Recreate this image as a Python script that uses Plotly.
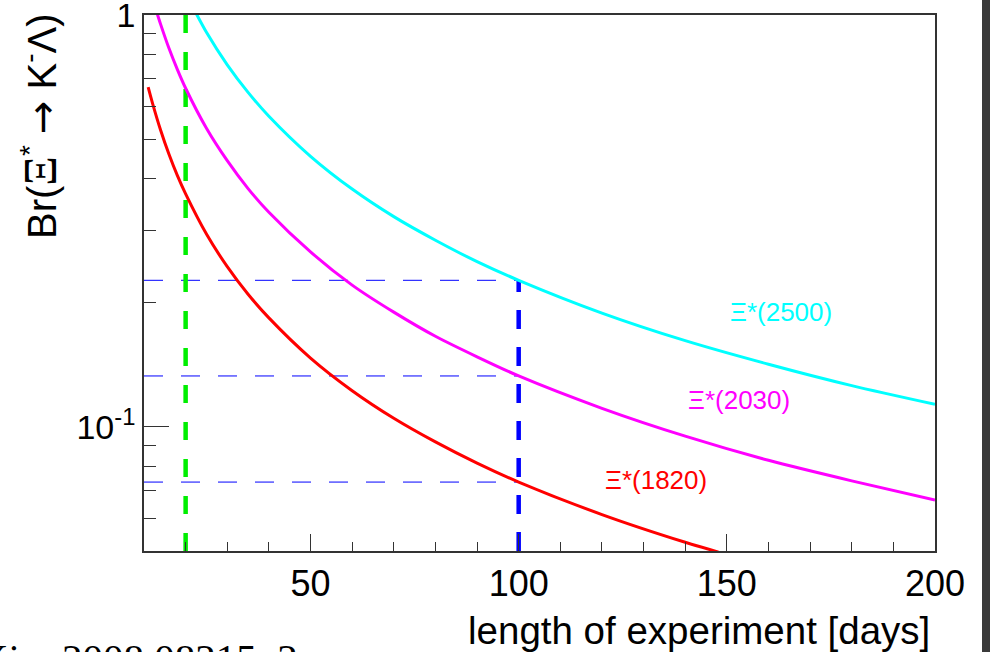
import math
import plotly.graph_objects as go

# ---- data ----
days_1820 = [11, 12, 14, 16, 18, 20, 25, 30, 35, 40, 50, 60, 70, 80, 90, 100, 120, 140, 148]
br_1820 = [0.668, 0.613, 0.525, 0.459, 0.408, 0.368, 0.294, 0.245, 0.210, 0.184, 0.147,
           0.1225, 0.105, 0.092, 0.0817, 0.0735, 0.0613, 0.0525, 0.0497]

days_2030 = [13, 14, 16, 18, 20, 25, 30, 35, 40, 50, 60, 70, 80, 90, 100, 120, 140, 160, 180, 200]
br_2030 = [1.02, 0.949, 0.830, 0.738, 0.664, 0.531, 0.443, 0.379, 0.332, 0.266, 0.221,
           0.190, 0.166, 0.148, 0.133, 0.111, 0.095, 0.083, 0.074, 0.0665]

days_2500 = [22.5, 25, 30, 35, 40, 50, 60, 70, 80, 90, 100, 120, 140, 160, 180, 200]
br_2500 = [1.01, 0.908, 0.757, 0.649, 0.568, 0.454, 0.378, 0.324, 0.284, 0.252, 0.227,
           0.189, 0.162, 0.142, 0.126, 0.1135]

green_day = 20
blue_day = 100
reach_at_100 = [0.227, 0.133, 0.0735]   # cyan, magenta, red at 100 days

labels = ["Ξ*(2500)", "Ξ*(2030)", "Ξ*(1820)"]
label_x = [163, 153, 133]
label_y = [0.190, 0.116, 0.0742]
colors = ["#00FFFF", "#FF00FF", "#FF0000"]

x_range = [10, 200]
y_min, y_max = 0.05, 1.0
x_tickvals = [50, 100, 150, 200]
x_minor = [20, 30, 40, 60, 70, 80, 90, 110, 120, 130, 140, 160, 170, 180, 190]
y_tickvals = [0.1, 1]
y_ticktext = ["10<sup>-1</sup>", "1"]
y_minor = [0.05, 0.06, 0.07, 0.08, 0.09, 0.2, 0.3, 0.4, 0.5, 0.6, 0.7, 0.8, 0.9]

FONT = "Liberation Sans, Arial, Helvetica, sans-serif"
W, H = 990.0, 652.0
# plot frame in pixels: left 144, right 935, top 15, bottom 551
X_DOMAIN = [144 / W, 935 / W]
Y_DOMAIN = [1 - 551 / H, 1 - 15 / H]

fig = go.Figure()

# horizontal thin blue dashed guides
for v in reach_at_100:
    fig.add_trace(go.Scatter(x=[x_range[0], blue_day], y=[v, v], mode="lines",
                             line=dict(color="#0000FF", width=1, dash="19px,18px"),
                             hoverinfo="skip", showlegend=False))

# vertical guides (drawn bottom -> top)
fig.add_trace(go.Scatter(x=[green_day, green_day], y=[y_min, y_max], mode="lines",
                         line=dict(color="#00EE00", width=4.5, dash="18px,19px"),
                         hoverinfo="skip", showlegend=False))
fig.add_trace(go.Scatter(x=[blue_day, blue_day], y=[y_min, reach_at_100[0]], mode="lines",
                         line=dict(color="#0000FF", width=4.5, dash="19px,18px"),
                         hoverinfo="skip", showlegend=False))

# curves
for xs, ys, c in [(days_2500, br_2500, colors[0]),
                  (days_2030, br_2030, colors[1]),
                  (days_1820, br_1820, colors[2])]:
    fig.add_trace(go.Scatter(x=xs, y=ys, mode="lines",
                             line=dict(color=c, width=3, shape="spline", smoothing=0.8),
                             showlegend=False))

# curve labels (log axis -> annotation y in log10 units)
for t, lx, ly, c in zip(labels, label_x, label_y, colors):
    fig.add_annotation(x=lx, y=math.log10(ly), xref="x", yref="y", text=t, showarrow=False,
                       font=dict(family=FONT, size=26, color=c),
                       xanchor="center", yanchor="middle")

fig.update_xaxes(domain=X_DOMAIN, range=x_range, showgrid=False, zeroline=False,
                 showline=True, linecolor="#333333", linewidth=1.5, mirror=True,
                 ticks="inside", ticklen=17, tickwidth=1.2, tickcolor="#333333",
                 tickvals=x_tickvals, ticktext=[str(v) for v in x_tickvals],
                 ticklabeloverflow="allow",
                 tickfont=dict(family=FONT, size=36, color="black"),
                 minor=dict(tickmode="array", tickvals=x_minor, ticks="inside",
                            ticklen=9, tickwidth=1.2, tickcolor="#333333"))

fig.update_yaxes(domain=Y_DOMAIN, type="log", range=[math.log10(y_min), math.log10(y_max)],
                 showgrid=False, zeroline=False,
                 showline=True, linecolor="#333333", linewidth=1.5, mirror=True,
                 ticks="inside", ticklen=25, tickwidth=1.2, tickcolor="#333333",
                 tickvals=y_tickvals, ticktext=y_ticktext,
                 ticklabeloverflow="allow",
                 tickfont=dict(family=FONT, size=34, color="black"),
                 minor=dict(tickmode="array", tickvals=y_minor, ticks="inside",
                            ticklen=12, tickwidth=1.2, tickcolor="#333333"))

# axis titles (ROOT style: right/top aligned)
fig.add_annotation(x=932 / W, y=1 - 630 / H, xref="paper", yref="paper",
                   text="length of experiment [days]", showarrow=False,
                   xanchor="right", yanchor="middle",
                   font=dict(family=FONT, size=38.5, color="black"))
fig.add_annotation(x=40 / W, y=1 - 11 / H, xref="paper", yref="paper",
                   text=("Br(<span style='font-family:Liberation Serif;font-size:46px'>Ξ</span><sup>*</sup> "
                         "<span style='font-family:DejaVu Sans'>→</span> K<sup>-</sup>Λ)"),
                   textangle=-90, showarrow=False, xanchor="center", yanchor="top",
                   font=dict(family=FONT, size=40, color="black"))

# citation text at bottom left, cut by the picture edges
fig.add_annotation(x=-55 / W, y=1 - 633 / H, xref="paper", yref="paper",
                   text="arXiv: 2008.08215, 2", showarrow=False,
                   xanchor="left", yanchor="top",
                   font=dict(family="Liberation Serif, serif", size=41, color="black"))

# dark strip at the right edge of the picture
fig.add_shape(type="rect", xref="paper", yref="paper",
              x0=982 / W, x1=1.0, y0=0.0, y1=1.0,
              fillcolor="#3a3a3a", line=dict(width=0), layer="above")

fig.update_layout(width=990, height=652,
                  margin=dict(l=0, r=0, t=0, b=0, pad=0, autoexpand=False),
                  paper_bgcolor="white", plot_bgcolor="white",
                  showlegend=False)

fig.write_html("out.html",
               config={"displayModeBar": False},
               post_script=("document.body.style.margin='0px';"
                            "document.body.style.overflow='hidden';"))
